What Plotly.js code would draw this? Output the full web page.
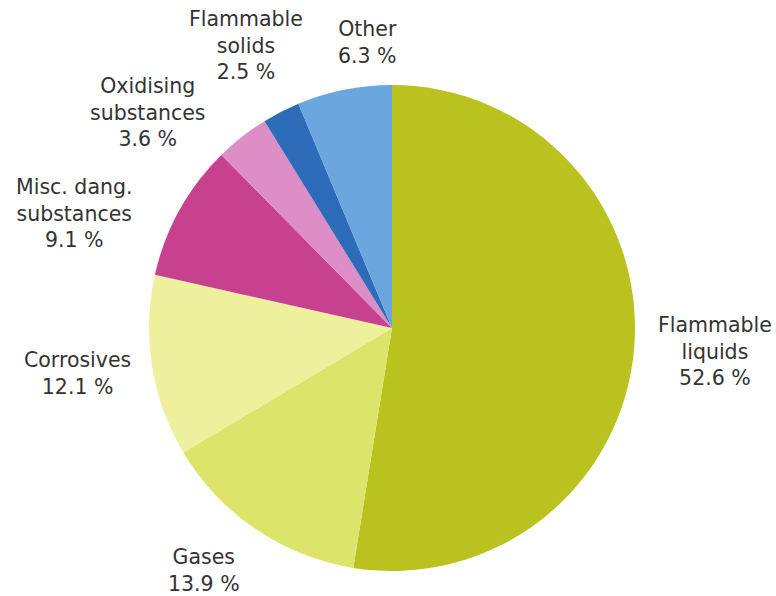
<!DOCTYPE html>
<html>
<head>
<meta charset="utf-8">
<script src="https://cdn.plot.ly/plotly-3.0.1.min.js"></script>
<style>html,body{margin:0;padding:0;background:#fff;}#chart{width:776px;height:596px;}</style>
</head>
<body>
<div id="chart"></div>
<script>
// Data
const categories = ["Flammable liquids", "Gases", "Corrosives", "Misc. dang. substances", "Oxidising substances", "Flammable solids", "Other"];
const shares = [52.6, 13.9, 12.1, 9.1, 3.6, 2.5, 6.3];
const labelLines = ["Flammable<br>liquids", "Gases", "Corrosives", "Misc. dang.<br>substances", "Oxidising<br>substances", "Flammable<br>solids", "Other"];

// Styles
const colors = ["#b9c21f", "#dde46a", "#eef09e", "#c8418f", "#de8ec6", "#2c6cb8", "#6ba6de"];
const labelPos = [[715, 351], [204, 570], [77, 373], [74, 213], [148, 113], [246, 45], [367, 43]];

const W = 776, H = 596;
const cx = 392, cy = 328, r = 243;

const annotations = categories.map((c, i) => ({
  text: labelLines[i] + "<br>" + shares[i].toFixed(1) + " %",
  x: labelPos[i][0] / W,
  y: 1 - labelPos[i][1] / H,
  xref: "paper", yref: "paper",
  xanchor: "center", yanchor: "middle",
  showarrow: false, align: "center",
  font: {family: "DejaVu Sans, sans-serif", size: 20.5, color: "#333333"}
}));

const trace = {
  type: "pie",
  labels: categories,
  values: shares,
  sort: false,
  direction: "clockwise",
  rotation: 0,
  textinfo: "none",
  hoverinfo: "skip",
  marker: {colors: colors, line: {width: 0}},
  domain: {x: [(cx - r) / W, (cx + r) / W], y: [1 - (cy + r) / H, 1 - (cy - r) / H]}
};

const layout = {
  width: W, height: H,
  margin: {l: 0, r: 0, t: 0, b: 0},
  showlegend: false,
  paper_bgcolor: "#ffffff",
  annotations: annotations
};

Plotly.newPlot("chart", [trace], layout, {staticPlot: true, displayModeBar: false});
</script>
</body>
</html>
